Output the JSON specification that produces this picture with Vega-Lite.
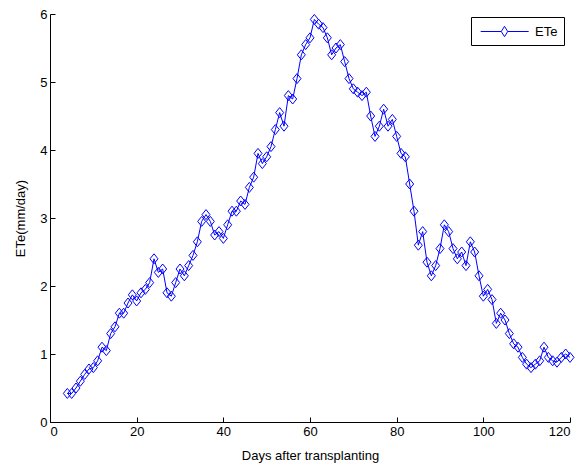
{
  "$schema": "https://vega.github.io/schema/vega-lite/v6.json",
  "autosize": "none",
  "width": 520,
  "height": 408,
  "padding": {"left": 50, "top": 14, "right": 10, "bottom": 44},
  "background": "white",
  "config": {
    "view": {"stroke": null},
    "font": "Liberation Sans",
    "axis": {
      "grid": false,
      "domainColor": "black",
      "domainWidth": 1,
      "tickColor": "black",
      "tickSize": -5,
      "labelColor": "black",
      "labelFontSize": 13,
      "labelFont": "Liberation Sans",
      "titleFont": "Liberation Sans",
      "titleFontSize": 13,
      "titleFontWeight": "normal",
      "titleColor": "black"
    }
  },
  "data": {
    "values": [
      {"day": 4, "ete": 0.42}, {"day": 5, "ete": 0.42}, {"day": 6, "ete": 0.5},
      {"day": 7, "ete": 0.6}, {"day": 8, "ete": 0.7}, {"day": 9, "ete": 0.78},
      {"day": 10, "ete": 0.8}, {"day": 11, "ete": 0.9}, {"day": 12, "ete": 1.1},
      {"day": 13, "ete": 1.05}, {"day": 14, "ete": 1.3}, {"day": 15, "ete": 1.4},
      {"day": 16, "ete": 1.6}, {"day": 17, "ete": 1.6}, {"day": 18, "ete": 1.75},
      {"day": 19, "ete": 1.87}, {"day": 20, "ete": 1.78}, {"day": 21, "ete": 1.9},
      {"day": 22, "ete": 1.95}, {"day": 23, "ete": 2.05}, {"day": 24, "ete": 2.4},
      {"day": 25, "ete": 2.2}, {"day": 26, "ete": 2.25}, {"day": 27, "ete": 1.9},
      {"day": 28, "ete": 1.85}, {"day": 29, "ete": 2.05}, {"day": 30, "ete": 2.25},
      {"day": 31, "ete": 2.15}, {"day": 32, "ete": 2.3}, {"day": 33, "ete": 2.45},
      {"day": 34, "ete": 2.65}, {"day": 35, "ete": 2.95}, {"day": 36, "ete": 3.05},
      {"day": 37, "ete": 2.95}, {"day": 38, "ete": 2.75}, {"day": 39, "ete": 2.8},
      {"day": 40, "ete": 2.7}, {"day": 41, "ete": 2.9}, {"day": 42, "ete": 3.1},
      {"day": 43, "ete": 3.1}, {"day": 44, "ete": 3.25}, {"day": 45, "ete": 3.2},
      {"day": 46, "ete": 3.45}, {"day": 47, "ete": 3.6}, {"day": 48, "ete": 3.95},
      {"day": 49, "ete": 3.8}, {"day": 50, "ete": 3.9}, {"day": 51, "ete": 4.05},
      {"day": 52, "ete": 4.3}, {"day": 53, "ete": 4.55}, {"day": 54, "ete": 4.35},
      {"day": 55, "ete": 4.8}, {"day": 56, "ete": 4.75}, {"day": 57, "ete": 5.05},
      {"day": 58, "ete": 5.4}, {"day": 59, "ete": 5.55}, {"day": 60, "ete": 5.65},
      {"day": 61, "ete": 5.92}, {"day": 62, "ete": 5.85}, {"day": 63, "ete": 5.8},
      {"day": 64, "ete": 5.65}, {"day": 65, "ete": 5.4}, {"day": 66, "ete": 5.5},
      {"day": 67, "ete": 5.55}, {"day": 68, "ete": 5.3}, {"day": 69, "ete": 5.05},
      {"day": 70, "ete": 4.9}, {"day": 71, "ete": 4.85}, {"day": 72, "ete": 4.8},
      {"day": 73, "ete": 4.85}, {"day": 74, "ete": 4.5}, {"day": 75, "ete": 4.2},
      {"day": 76, "ete": 4.35}, {"day": 77, "ete": 4.6}, {"day": 78, "ete": 4.35},
      {"day": 79, "ete": 4.45}, {"day": 80, "ete": 4.2}, {"day": 81, "ete": 3.95},
      {"day": 82, "ete": 3.9}, {"day": 83, "ete": 3.5}, {"day": 84, "ete": 3.1},
      {"day": 85, "ete": 2.6}, {"day": 86, "ete": 2.8}, {"day": 87, "ete": 2.35},
      {"day": 88, "ete": 2.15}, {"day": 89, "ete": 2.3}, {"day": 90, "ete": 2.55},
      {"day": 91, "ete": 2.9}, {"day": 92, "ete": 2.8}, {"day": 93, "ete": 2.55},
      {"day": 94, "ete": 2.4}, {"day": 95, "ete": 2.5}, {"day": 96, "ete": 2.3},
      {"day": 97, "ete": 2.65}, {"day": 98, "ete": 2.5}, {"day": 99, "ete": 2.15},
      {"day": 100, "ete": 1.85}, {"day": 101, "ete": 1.95}, {"day": 102, "ete": 1.8},
      {"day": 103, "ete": 1.45}, {"day": 104, "ete": 1.6}, {"day": 105, "ete": 1.5},
      {"day": 106, "ete": 1.3}, {"day": 107, "ete": 1.15}, {"day": 108, "ete": 1.1},
      {"day": 109, "ete": 0.95}, {"day": 110, "ete": 0.85}, {"day": 111, "ete": 0.8},
      {"day": 112, "ete": 0.85}, {"day": 113, "ete": 0.9}, {"day": 114, "ete": 1.1},
      {"day": 115, "ete": 0.95}, {"day": 116, "ete": 0.9}, {"day": 117, "ete": 0.88},
      {"day": 118, "ete": 0.95}, {"day": 119, "ete": 1.0}, {"day": 120, "ete": 0.95}
    ]
  },
  "encoding": {
    "x": {
      "field": "day",
      "type": "quantitative",
      "scale": {"domain": [0, 120], "nice": false, "zero": false},
      "axis": {"values": [0, 20, 40, 60, 80, 100, 120], "title": "Days after transplanting", "titlePadding": 11, "labelPadding": 8}
    },
    "y": {
      "field": "ete",
      "type": "quantitative",
      "scale": {"domain": [0, 6], "nice": false},
      "axis": {"values": [0, 1, 2, 3, 4, 5, 6], "title": "ETe(mm/day)", "titlePadding": 12, "labelPadding": 8}
    },
    "color": {
      "datum": "ETe",
      "type": "nominal",
      "scale": {"range": ["#0000ff"]},
      "legend": {
        "title": null,
        "orient": "none",
        "legendX": 421,
        "legendY": 3,
        "strokeColor": "black",
        "fillColor": "white",
        "padding": 6,
        "symbolType": "M-0.6,0L1.975,0M2.775,0L5.4,0M1.975,0L2.375,-0.65L2.775,0L2.375,0.65Z",
        "symbolSize": 256,
        "symbolStrokeWidth": 1,
        "symbolFillColor": "transparent",
        "symbolStrokeColor": "#0000ff",
        "labelFontSize": 13,
        "labelColor": "black",
        "labelFont": "Liberation Sans",
        "labelOffset": 41
      }
    }
  },
  "layer": [
    {"mark": {"type": "line", "strokeWidth": 1}},
    {
      "mark": {
        "type": "point",
        "shape": "M-0.8,0L0,-1L0.8,0L0,1Z",
        "filled": false,
        "size": 100,
        "strokeWidth": 1,
        "opacity": 1
      }
    }
  ]
}
